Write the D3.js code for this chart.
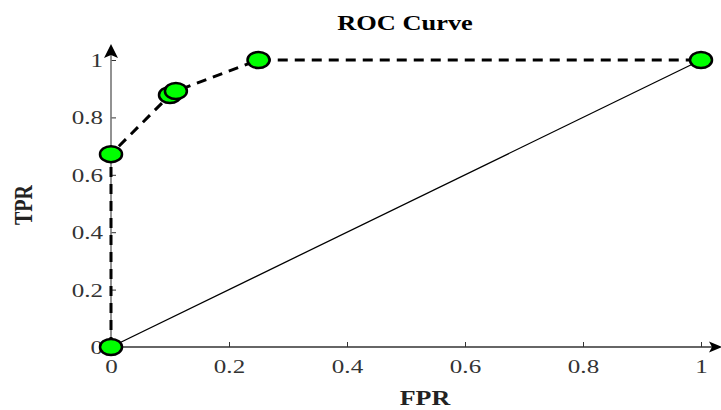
<!DOCTYPE html>
<html><head><meta charset="utf-8">
<script src="https://cdn.jsdelivr.net/npm/d3@7"></script>
<style>body{margin:0;background:#fff}svg{display:block}</style>
</head><body>
<svg id="c" width="721" height="410"></svg>
<script>
const fpr = [0, 0, 0.1, 0.11, 0.25, 1];
const tpr = [0, 0.672, 0.878, 0.892, 1, 1];
const diagX = [0, 1];
const diagY = [0, 1];
const xTicks = [0, 0.2, 0.4, 0.6, 0.8, 1];
const yTicks = [0, 0.2, 0.4, 0.6, 0.8, 1];
const title = "ROC Curve", xLabel = "FPR", yLabel = "TPR";

const svg = d3.select("#c");
const x = d3.scaleLinear().domain([0, 1]).range([111, 701]);
const y = d3.scaleLinear().domain([0, 1]).range([347, 60]);
const font = "'Liberation Serif', 'Times New Roman', serif";
const SX = 1.32;

// axes
const xa = svg.append("g").attr("transform", `translate(0,${y(0)})`)
  .call(d3.axisBottom(x).tickValues(xTicks).tickSize(-5).tickFormat(d3.format("")));
xa.select(".domain").remove();
xa.selectAll(".tick text").attr("font-family", font).attr("font-size", 19).attr("fill", "#333")
  .attr("y", 26).attr("dy", 0).attr("transform", `scale(${SX},1)`);
xa.selectAll("line").attr("stroke", "#333");
const ya = svg.append("g").attr("transform", `translate(${x(0)},0)`)
  .call(d3.axisLeft(y).tickValues(yTicks).tickSize(-5).tickFormat(d3.format("")));
ya.select(".domain").remove();
ya.selectAll(".tick text").attr("font-family", font).attr("font-size", 19).attr("fill", "#333")
  .attr("x", -8 / SX).attr("dy", "0.34em").attr("transform", `scale(${SX},1)`);
ya.selectAll("line").attr("stroke", "#333");

// axis lines with arrows
svg.append("line").attr("x1", x(0)).attr("x2", 713).attr("y1", y(0)).attr("y2", y(0))
  .attr("stroke", "#333").attr("stroke-width", 1.3);
svg.append("path").attr("d", `M722,${y(0)} L709,${y(0)-5.5} L712,${y(0)} L709,${y(0)+5.5} Z`).attr("fill", "#000");
svg.append("line").attr("x1", x(0)).attr("x2", x(0)).attr("y1", y(0)).attr("y2", 52)
  .attr("stroke", "#777").attr("stroke-width", 1.6);
svg.append("path").attr("d", `M${x(0)},44 L${x(0)-7},58 L${x(0)},55 L${x(0)+7},58 Z`).attr("fill", "#000");

// diagonal
const line = d3.line().x(d => x(d[0])).y(d => y(d[1]));
svg.append("path").attr("d", line(diagX.map((v, i) => [v, diagY[i]])))
  .attr("fill", "none").attr("stroke", "#000").attr("stroke-width", 1.3);

// ROC curve
const pts = fpr.map((v, i) => [v, tpr[i]]);
svg.append("path").attr("d", line(pts)).attr("fill", "none")
  .attr("stroke", "#000").attr("stroke-width", 3).attr("stroke-dasharray", "10,7");

svg.selectAll("ellipse.m").data(pts).join("ellipse").attr("class", "m")
  .attr("cx", d => x(d[0])).attr("cy", d => y(d[1])).attr("rx", 11).attr("ry", 8)
  .attr("fill", "#00ff00").attr("stroke", "#000").attr("stroke-width", 2.5);

// texts
svg.append("text").attr("transform", `translate(405,30) scale(${SX},1)`).attr("text-anchor", "middle")
  .attr("font-family", font).attr("font-weight", "bold").attr("font-size", 20).text(title);
svg.append("text").attr("transform", `translate(425,405) scale(1.3,1)`).attr("text-anchor", "middle")
  .attr("font-family", font).attr("font-weight", "bold").attr("font-size", 20).attr("fill", "#222").text(xLabel);
svg.append("text").attr("transform", "translate(32,205) scale(1.3,1) rotate(-90)").attr("text-anchor", "middle")
  .attr("font-family", font).attr("font-weight", "bold").attr("font-size", 20).attr("fill", "#222").text(yLabel);
</script>
</body></html>
